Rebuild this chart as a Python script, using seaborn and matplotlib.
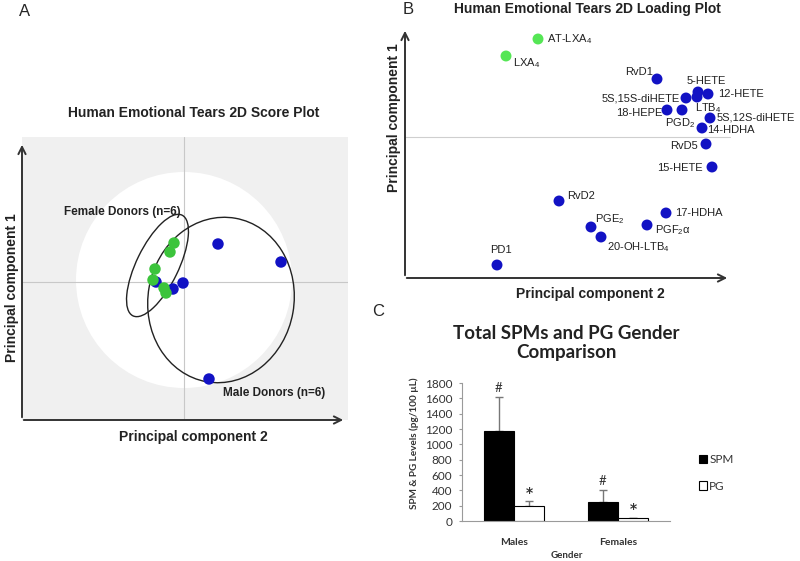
import numpy as np
import pandas as pd
import matplotlib
matplotlib.use("Agg")
import matplotlib.pyplot as plt
from matplotlib.patches import Ellipse, Circle
import seaborn as sns

# ---------------- data ----------------
# Panel A: score plot (PC2 on x, PC1 on y)
score_pc2_male = [0.34, 0.97, 0.25, -0.01, -0.11, -0.28]
score_pc1_male = [0.38, 0.20, -0.97, -0.01, -0.07, 0.00]
score_pc2_female = [-0.10, -0.14, -0.29, -0.31, -0.20, -0.18]
score_pc1_female = [0.39, 0.30, 0.13, 0.02, -0.06, -0.11]

# Panel B: loading plot
load_names = ["AT-LXA$_4$", "LXA$_4$", "RvD1", "5-HETE", "12-HETE", "LTB$_4$",
              "5S,15S-diHETE", "18-HEPE", "PGD$_2$", "5S,12S-diHETE", "14-HDHA",
              "RvD5", "15-HETE", "RvD2", "17-HDHA", "PGE$_2$", "PGF$_2$α",
              "20-OH-LTB$_4$", "PD1"]
load_pc2 = [1.33, 1.01, 2.52, 2.93, 3.03, 2.92, 2.81, 2.62, 2.77, 3.05, 2.97,
            3.01, 3.07, 1.54, 2.61, 1.86, 2.42, 1.96, 0.92]
load_pc1 = [2.39, 2.22, 1.99, 1.86, 1.84, 1.81, 1.80, 1.68, 1.68, 1.60, 1.50,
            1.34, 1.11, 0.77, 0.65, 0.51, 0.53, 0.41, 0.13]
load_group = ["LX", "LX"] + ["other"] * 17

# Panel C: bar chart
genders = ["Males", "Females"]
spm_mean = [1180, 250]
spm_err = [440, 160]
pg_mean = [190, 40]
pg_err = [70, 5]
y_ticks_c = [0, 200, 400, 600, 800, 1000, 1200, 1400, 1600, 1800]

# ---------------- style ----------------
sns.set_style("white")
plt.rcParams["font.family"] = ["Liberation Sans", "DejaVu Sans"]
plt.rcParams["mathtext.fontset"] = "custom"
plt.rcParams["mathtext.rm"] = "Liberation Sans"
plt.rcParams["mathtext.it"] = "Liberation Sans:italic"

W, H = 800, 561
fig = plt.figure(figsize=(W / 100, H / 100), dpi=100)


def rect(l, t, r, b):
    return [l / W, 1 - b / H, (r - l) / W, (b - t) / H]


def fx(px):
    return px / W


def fy(py):
    return 1 - py / H


BLUE = "#1212c4"
GREEN_A = "#3cc43c"
GREEN_B = "#55e655"
ARROW = dict(arrowstyle="->", lw=1.4, color="#333333", mutation_scale=13)
LATO = ["Lato", "DejaVu Sans"]

# ---------------- Panel A ----------------
axA = fig.add_axes(rect(22, 137, 348, 420))
axA.set_facecolor("#f0f0f0")
axA.set_xlim(-1.62, 1.64)
axA.set_ylim(-1.38, 1.45)
for s in axA.spines.values():
    s.set_visible(False)
axA.set_xticks([])
axA.set_yticks([])
axA.add_patch(Circle((0.0, 0.02), 1.08, facecolor="white", edgecolor="none", zorder=0.5))
axA.axvline(0, color="#c8c8c8", lw=0.8, zorder=1)
axA.axhline(0, color="#c8c8c8", lw=0.8, zorder=1)
axA.add_patch(Ellipse((-0.265, 0.165), 1.12, 0.42, angle=64, fill=False,
                      edgecolor="#222222", lw=1.0, zorder=2))
axA.add_patch(Ellipse((0.37, -0.18), 1.66, 1.46, angle=80, fill=False,
                      edgecolor="#222222", lw=1.0, zorder=2))
dfA = pd.DataFrame({
    "pc2": score_pc2_male + score_pc2_female,
    "pc1": score_pc1_male + score_pc1_female,
    "group": ["Male"] * len(score_pc2_male) + ["Female"] * len(score_pc2_female),
})
sns.scatterplot(data=dfA, x="pc2", y="pc1", hue="group",
                palette={"Male": BLUE, "Female": GREEN_A}, s=68,
                linewidth=0, legend=False, ax=axA, zorder=3)
axA.set_xlabel("")
axA.set_ylabel("")
axA.annotate("", xy=(-1.62, 1.40), xytext=(-1.62, -1.38), xycoords="data",
             arrowprops=ARROW, annotation_clip=False)
axA.annotate("", xy=(1.62, -1.38), xytext=(-1.63, -1.38), xycoords="data",
             arrowprops=ARROW, annotation_clip=False)
axA.text(-0.62, 0.70, "Female Donors (n=6)", fontsize=8.5, fontweight="bold",
         ha="center", va="center", color="#222222")
axA.text(0.90, -1.11, "Male Donors (n=6)", fontsize=8.5, fontweight="bold",
         ha="center", va="center", color="#222222")

fig.text(fx(194), fy(113), "Human Emotional Tears 2D Score Plot", fontsize=10,
         fontweight="bold", ha="center", va="center", color="#222222")
fig.text(fx(193), fy(437), "Principal component 2", fontsize=10,
         fontweight="bold", ha="center", va="center", color="#222222")
fig.text(fx(12), fy(288), "Principal component 1", fontsize=10,
         fontweight="bold", ha="center", va="center", rotation=90, color="#222222")
fig.text(fx(25), fy(11), "A", fontsize=12, ha="center", va="center")

# ---------------- Panel B ----------------
axB = fig.add_axes(rect(405, 25, 745, 278))
axB.set_xlim(0, 3.40)
axB.set_ylim(0, 2.53)
for s in axB.spines.values():
    s.set_visible(False)
axB.set_xticks([])
axB.set_yticks([])
axB.plot([0, 3.25], [1.41, 1.41], color="#cfcfcf", lw=0.8, zorder=1)
dfB = pd.DataFrame({"pc2": load_pc2, "pc1": load_pc1, "group": load_group,
                    "name": load_names})
sns.scatterplot(data=dfB, x="pc2", y="pc1", hue="group",
                palette={"LX": GREEN_B, "other": BLUE}, s=62, linewidth=0,
                legend=False, ax=axB, zorder=3)
axB.set_xlabel("")
axB.set_ylabel("")
axB.annotate("", xy=(0, 2.50), xytext=(0, 0), arrowprops=ARROW, annotation_clip=False)
axB.annotate("", xy=(3.25, 0), xytext=(-0.01, 0), arrowprops=ARROW, annotation_clip=False)

# label offsets in pixels (dx right, dy down) and alignment
label_style = [
    (9, 0, "left"), (7, 7, "left"), (-4, -7, "right"), (-11, -11, "left"),
    (10, 0, "left"), (-2, 11, "left"), (-6, 0, "right"), (-5, 3, "right"),
    (-17, 13, "left"), (7, -1, "left"), (5, 2, "left"), (-8, 2, "right"),
    (-9, 1, "right"), (8, -5, "left"), (9, 0, "left"), (4, -8, "left"),
    (8, 5, "left"), (6, 10, "left"), (-7, -15, "left"),
]
for name, x, y, (dx, dy, ha) in zip(load_names, load_pc2, load_pc1, label_style):
    axB.annotate(name, (x, y), xytext=(dx * 0.72, -dy * 0.72),
                 textcoords="offset points", ha=ha, va="center", fontsize=8,
                 color="#222222", zorder=4)

fig.text(fx(587), fy(9), "Human Emotional Tears 2D Loading Plot", fontsize=10,
         fontweight="bold", ha="center", va="center", color="#222222")
fig.text(fx(590), fy(294), "Principal component 2", fontsize=10,
         fontweight="bold", ha="center", va="center", color="#222222")
fig.text(fx(394), fy(118), "Principal component 1", fontsize=10,
         fontweight="bold", ha="center", va="center", rotation=90, color="#222222")
fig.text(fx(408), fy(10), "B", fontsize=12, ha="center", va="center")

# ---------------- Panel C ----------------
axC = fig.add_axes(rect(462, 383, 670, 521))
dfC = pd.DataFrame({
    "Gender": genders * 2,
    "Level": spm_mean + pg_mean,
    "Type": ["SPM"] * len(genders) + ["PG"] * len(genders),
})
sns.barplot(data=dfC, x="Gender", y="Level", hue="Type", order=genders,
            hue_order=["SPM", "PG"], palette={"SPM": "black", "PG": "white"},
            edgecolor="black", linewidth=0.8, width=0.58, errorbar=None,
            ax=axC, zorder=2)
axC.set_xlim(-0.5, 1.5)
axC.set_ylim(0, 1800)
bars = axC.patches[:4]
err_all = spm_err + pg_err
mean_all = spm_mean + pg_mean
marks = ["#", "#", "*", "*"]
for bar, m, e, mk in zip(bars, mean_all, err_all, marks):
    xc = bar.get_x() + bar.get_width() / 2
    axC.errorbar([xc], [m], yerr=[[0], [e]], fmt="none", ecolor="#777777",
                 elinewidth=1.0, capsize=3, capthick=1.0, zorder=1)
    if mk == "#":
        axC.annotate(mk, (xc, m + e), xytext=(0, 2), textcoords="offset points",
                     ha="center", va="bottom", fontsize=9.5, family=LATO,
                     color="#333333")
    else:
        axC.annotate(mk, (xc, m + e), xytext=(0, 1), textcoords="offset points",
                     ha="center", va="bottom", fontsize=10, fontweight="bold",
                     family=["DejaVu Sans"], color="#333333")
for side in ["top", "right"]:
    axC.spines[side].set_visible(False)
for side in ["left", "bottom"]:
    axC.spines[side].set_color("#9a9a9a")
    axC.spines[side].set_linewidth(0.8)
axC.set_yticks(y_ticks_c)
axC.set_yticklabels([str(v) for v in y_ticks_c], family=LATO,
                    fontsize=8.5, color="#333333")
axC.set_xticks([0, 1])
axC.set_xticklabels(genders, family=LATO, fontsize=7.5,
                    fontweight="bold", color="#333333")
axC.set_xticks([-0.5, 0.5, 1.5], minor=True)
axC.tick_params(axis="x", which="major", length=0, pad=12)
axC.tick_params(axis="x", which="minor", length=4, color="#9a9a9a", direction="out")
axC.tick_params(axis="y", which="major", length=2, color="#9a9a9a", direction="out",
                left=True, pad=5)
axC.set_xlabel("")
axC.set_ylabel("")
leg = axC.legend(loc="center left", bbox_to_anchor=(fx(688), fy(473)),
                 bbox_transform=fig.transFigure, frameon=False,
                 handlelength=0.7, handleheight=0.7, handletextpad=0.2,
                 labelspacing=1.3, prop={"family": LATO, "size": 8.5})
for t in leg.get_texts():
    t.set_color("#333333")

fig.text(fx(566), fy(343), "Total SPMs and PG Gender\nComparison", fontsize=13.5,
         fontweight="bold", ha="center", va="center", linespacing=1.1,
         family=LATO, color="#222222")
fig.text(fx(567), fy(555), "Gender", fontsize=7, fontweight="bold", ha="center",
         va="center", family=LATO, color="#333333")
fig.text(fx(414), fy(443), "SPM & PG Levels (pg/100 µL)", fontsize=7.2,
         fontweight="bold", ha="center", va="center", rotation=90,
         family=LATO, color="#333333")
fig.text(fx(378), fy(311), "C", fontsize=12, ha="center", va="center")

fig.savefig("out.png", dpi=100)
